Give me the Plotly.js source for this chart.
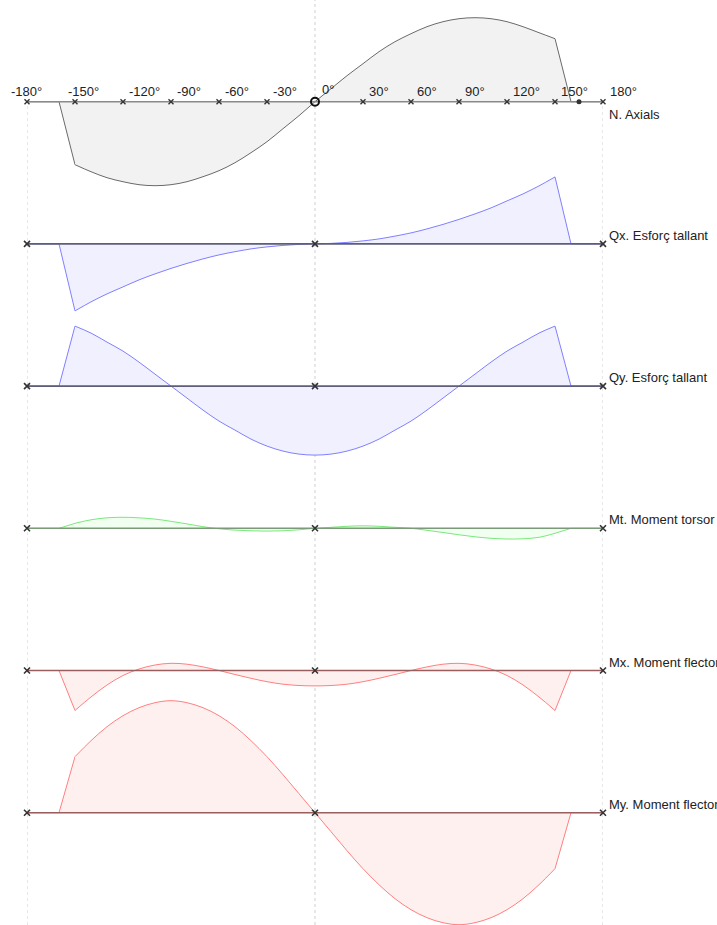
<!DOCTYPE html>
<html>
<head>
<meta charset="utf-8">
<script src="https://cdn.plot.ly/plotly-3.0.1.min.js"></script>
<style>html,body{margin:0;padding:0;background:#fff;}#chart{width:717px;height:925px;}</style>
</head>
<body>
<div id="chart"></div>
<script>
// ---- DATA ----
const angles = [-180,-160,-150,-140,-130,-120,-110,-100,-90,-80,-70,-60,-50,-40,-30,-20,-10,0,10,20,30,40,50,60,70,80,90,100,110,120,130,140,150,160,180];
const axialN   = [0,0,-63,-70,-76,-80,-83,-84,-83,-80,-75,-69,-61,-51,-40,-27,-14,0,13,26,38,50,60,68,75,80,83,84,83,80,75,69,63,0,0];
const shearQx  = [0,0,-67,-58,-50,-43,-36,-30,-24.5,-19.5,-15,-11,-7.8,-5,-3,-1.5,-0.5,0,0.5,1.5,3,5,7.8,11,15,19.5,24.5,30,36,43,50,58,67,0,0];
const shearQy  = [0,0,60,53,44,35,24,12,0,-12,-24,-35,-44,-53,-60,-65,-68,-69,-68,-65,-60,-53,-44,-35,-24,-12,0,12,24,35,44,53,60,0,0];
const torsionMt= [0,0,5,8.5,10.5,11,10.5,9.2,7,4.4,1.6,-0.5,-1.8,-2.5,-2.8,-2.5,-1.5,0,1,2,2.5,2,1,0,-2,-4.2,-6.5,-8.5,-10,-10.7,-10.5,-9,-5,0,0];
const bendMx   = [0,0,-40,-26.5,-14.5,-5,1.5,5.5,7.2,6.3,3.6,0,-4,-7.8,-11.2,-13.7,-15,-15.4,-15,-13.7,-11.2,-7.8,-4,0,3.6,6.3,7.2,5.5,1.5,-5,-14.5,-26.5,-40,0,0];
const bendMy   = [0,0,56,72,86,97,105,110,112,110,105,97,86,72,56,38,19,0,-19,-38,-56,-72,-86,-97,-105,-110,-112,-110,-105,-97,-86,-72,-56,0,0];
const tickAngles = [-180,-150,-120,-90,-60,-30,0,30,60,90,120,150,180];
const tickLabels = ['-180°','-150°','-120°','-90°','-60°','-30°','0°','30°','60°','90°','120°','150°','180°'];
const panelLabels = ['N. Axials','Qx. Esforç tallant','Qy. Esforç tallant','Mt. Moment torsor','Mx. Moment flector','My. Moment flector'];
const axialMarkerAngle = 165;
const panelMarkerAngles = [-180,0,180];

// ---- STYLE / LAYOUT ----
const W = 717, H = 925;
const baselinePx = [101.7, 243.9, 386.1, 528.3, 670.5, 812.7];
const series = [axialN, shearQx, shearQy, torsionMt, bendMx, bendMy];
const lineColors = ['#6a6a6a','#8080ff','#8080ff','#7ce87c','#ff8080','#ff8080'];
const fillColors = ['#f2f2f2','#f0f0ff','#f0f0ff','#f0fff0','#fff0f0','#fff0f0'];
const baseColors = ['#8a8a8a','#5e5e78','#5e5e78','#7a9a7a','#9a5e5e','#9a5e5e'];
const labelShift = [-13, 8, 9, 9, 8, 8];
const font = 'Liberation Sans, Arial, sans-serif';

// smooth section runs between the two corner angles (-150 .. 150)
const iStart = angles.indexOf(-150), iEnd = angles.indexOf(150);

const traces = [];
const layout = {
  width: W, height: H,
  margin: {l: 27, r: 114, t: 0, b: 0, pad: 0},
  paper_bgcolor: '#fff', plot_bgcolor: '#fff',
  showlegend: false,
  xaxis: {range: [-180, 180], visible: false, fixedrange: true},
  annotations: [], shapes: []
};

series.forEach((vals, k) => {
  const yname = k === 0 ? 'y' : 'y' + (k + 1);
  const akey = k === 0 ? 'yaxis' : 'yaxis' + (k + 1);
  const b = baselinePx[k];
  layout[akey] = {range: [b - H, b], domain: [0, 1], visible: false, fixedrange: true};
  if (k > 0) layout[akey].overlaying = 'y';
  const common = {yaxis: yname, type: 'scatter', mode: 'lines', fill: 'tozeroy',
    fillcolor: fillColors[k], cliponaxis: false, hoverinfo: 'skip'};
  traces.push(Object.assign({x: angles.slice(0, iStart + 1), y: vals.slice(0, iStart + 1),
    line: {color: lineColors[k], width: 1}}, common));
  traces.push(Object.assign({x: angles.slice(iStart, iEnd + 1), y: vals.slice(iStart, iEnd + 1),
    line: {color: lineColors[k], width: 1, shape: 'spline', smoothing: 1}}, common));
  traces.push(Object.assign({x: angles.slice(iEnd), y: vals.slice(iEnd),
    line: {color: lineColors[k], width: 1}}, common));
  traces.push({x: [-180, 180], y: [0, 0], yaxis: yname, type: 'scatter', mode: 'lines',
    line: {color: baseColors[k], width: 1.6}, hoverinfo: 'skip'});
  if (k === 0) {
    const tx = tickAngles.filter(a => a !== 0);
    traces.push({x: tx, y: tx.map(() => 0), yaxis: yname, type: 'scatter', mode: 'markers',
      marker: {symbol: 'x-thin', size: 5, color: '#333', line: {width: 1.4, color: '#333'}}, cliponaxis: false, hoverinfo: 'skip'});
    traces.push({x: [0], y: [0], yaxis: yname, type: 'scatter', mode: 'markers',
      marker: {symbol: 'circle-open', size: 8, color: '#111', line: {width: 2, color: '#111'}}, hoverinfo: 'skip'});
    traces.push({x: [axialMarkerAngle], y: [0], yaxis: yname, type: 'scatter', mode: 'markers',
      marker: {symbol: 'circle', size: 5, color: '#333'}, hoverinfo: 'skip'});
    tickAngles.forEach((a, i) => {
      let xanchor = 'left', xshift = 4, yshift = 10;
      if (a === -180) { xanchor = 'center'; xshift = -1; }
      if (a === -150) { xshift = -9; }
      if (a === 0) { xshift = 5; yshift = 12; }
      if (a === 180) { xshift = 5; }
      layout.annotations.push({x: a, y: 0, xref: 'x', yref: yname, text: tickLabels[i],
        showarrow: false, xanchor: xanchor, yanchor: 'middle', xshift: xshift, yshift: yshift,
        font: {family: font, size: 13, color: '#222'}});
    });
  } else {
    traces.push({x: panelMarkerAngles, y: panelMarkerAngles.map(() => 0), yaxis: yname, type: 'scatter', mode: 'markers',
      marker: {symbol: 'x-thin', size: 6, color: '#333', line: {width: 1.6, color: '#333'}}, cliponaxis: false, hoverinfo: 'skip'});
  }
  layout.annotations.push({x: 180, y: 0, xref: 'x', yref: yname, text: panelLabels[k],
    showarrow: false, xanchor: 'left', yanchor: 'middle', xshift: 4, yshift: labelShift[k],
    font: {family: font, size: 13, color: '#222'}});
});

// dotted vertical guides
layout.shapes.push({type: 'line', xref: 'x', yref: 'paper', x0: 0, x1: 0, y0: 0, y1: 1,
  line: {color: '#cfcfcf', width: 1, dash: 'dot'}, layer: 'below'});
[-180, 180].forEach(a => layout.shapes.push({type: 'line', xref: 'x', yref: 'paper', x0: a, x1: a,
  y0: 0, y1: 1 - 106 / H, line: {color: '#cfcfcf', width: 1, dash: 'dot'}, layer: 'below'}));

Plotly.newPlot('chart', traces, layout, {staticPlot: true, displayModeBar: false});
</script>
</body>
</html>
